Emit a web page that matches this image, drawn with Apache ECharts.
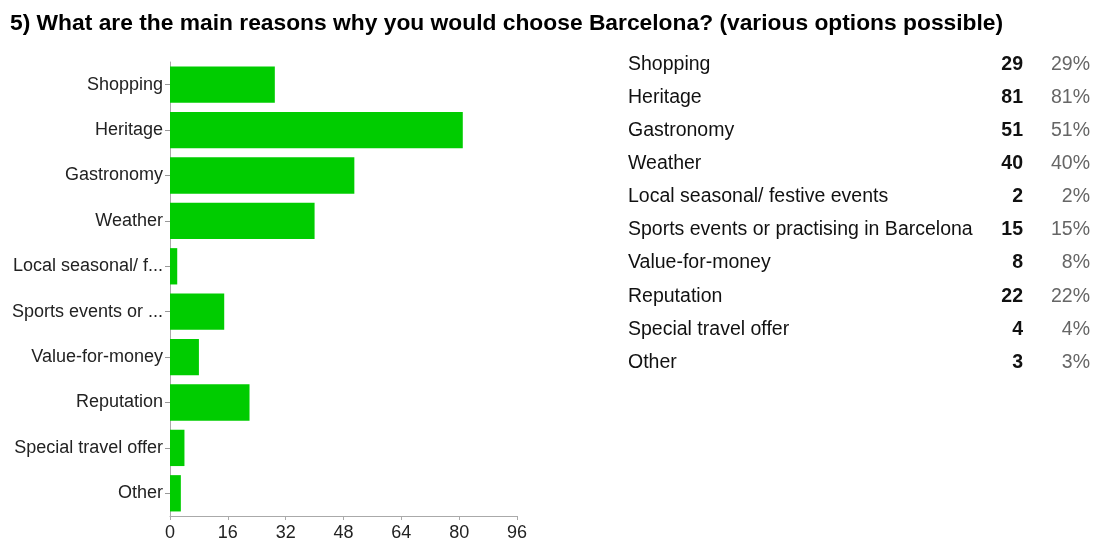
<!DOCTYPE html>
<html>
<head>
<meta charset="utf-8">
<script src="https://cdn.jsdelivr.net/npm/echarts@6/dist/echarts.min.js"></script>
<style>
  html, body { margin: 0; padding: 0; background: #fff; }
  #chart { width: 1096px; height: 542px; }
</style>
</head>
<body>
<div id="chart"></div>
<script>
// Survey question and answers
const title = '5) What are the main reasons why you would choose Barcelona? (various options possible)';
const categories = [
  'Shopping', 'Heritage', 'Gastronomy', 'Weather', 'Local seasonal/ festive events',
  'Sports events or practising in Barcelona', 'Value-for-money', 'Reputation',
  'Special travel offer', 'Other'
];
const counts = [29, 81, 51, 40, 2, 15, 8, 22, 4, 3];
const percents = ['29%', '81%', '51%', '40%', '2%', '15%', '8%', '22%', '4%', '3%'];
const xTicks = { min: 0, max: 96, interval: 16 };

const FONT = '"Liberation Sans", Arial, sans-serif';

// Shorten long answers on the axis
function shortLabel(s) {
  return s.length > 20 ? s.slice(0, 17) + '...' : s;
}

// Summary table on the right, one row per answer
const table = [];
const rowTop = 64.5, rowStep = 33.1;
categories.forEach((c, i) => {
  const y = rowTop + i * rowStep;
  table.push({
    type: 'text', x: 628, y: y, silent: true,
    style: { text: c, font: '19.5px ' + FONT, fill: '#111', textVerticalAlign: 'middle' }
  });
  table.push({
    type: 'text', x: 1023, y: y, silent: true,
    style: { text: String(counts[i]), font: 'bold 19.5px ' + FONT, fill: '#111',
             textAlign: 'right', textVerticalAlign: 'middle' }
  });
  table.push({
    type: 'text', x: 1090, y: y, silent: true,
    style: { text: percents[i], font: '19.5px ' + FONT, fill: '#666',
             textAlign: 'right', textVerticalAlign: 'middle' }
  });
});

const chart = echarts.init(document.getElementById('chart'));
chart.setOption({
  animation: false,
  backgroundColor: '#fff',
  title: {
    text: title, left: 10, top: 12, padding: 0,
    textStyle: { fontFamily: FONT, fontSize: 22.8, fontWeight: 'bold', color: '#000' }
  },
  grid: { left: 170, right: 579, top: 62, bottom: 25, containLabel: false },
  xAxis: {
    type: 'value', min: xTicks.min, max: xTicks.max, interval: xTicks.interval,
    axisLine: { show: true, lineStyle: { color: '#aaa' } },
    axisTick: { show: true, length: 4, lineStyle: { color: '#aaa' } },
    splitLine: { show: false },
    axisLabel: { fontFamily: FONT, fontSize: 18, color: '#222', margin: 8 }
  },
  yAxis: {
    type: 'category', inverse: true, data: categories,
    axisLine: { show: true, lineStyle: { color: '#aaa' } },
    axisTick: { show: true, length: 5, alignWithLabel: true, lineStyle: { color: '#999' } },
    axisLabel: { fontFamily: FONT, fontSize: 18, color: '#222', margin: 7, formatter: shortLabel }
  },
  series: [{
    type: 'bar', data: counts, barCategoryGap: '20%',
    itemStyle: { color: '#00cc00' }
  }],
  graphic: table
});
</script>
</body>
</html>
